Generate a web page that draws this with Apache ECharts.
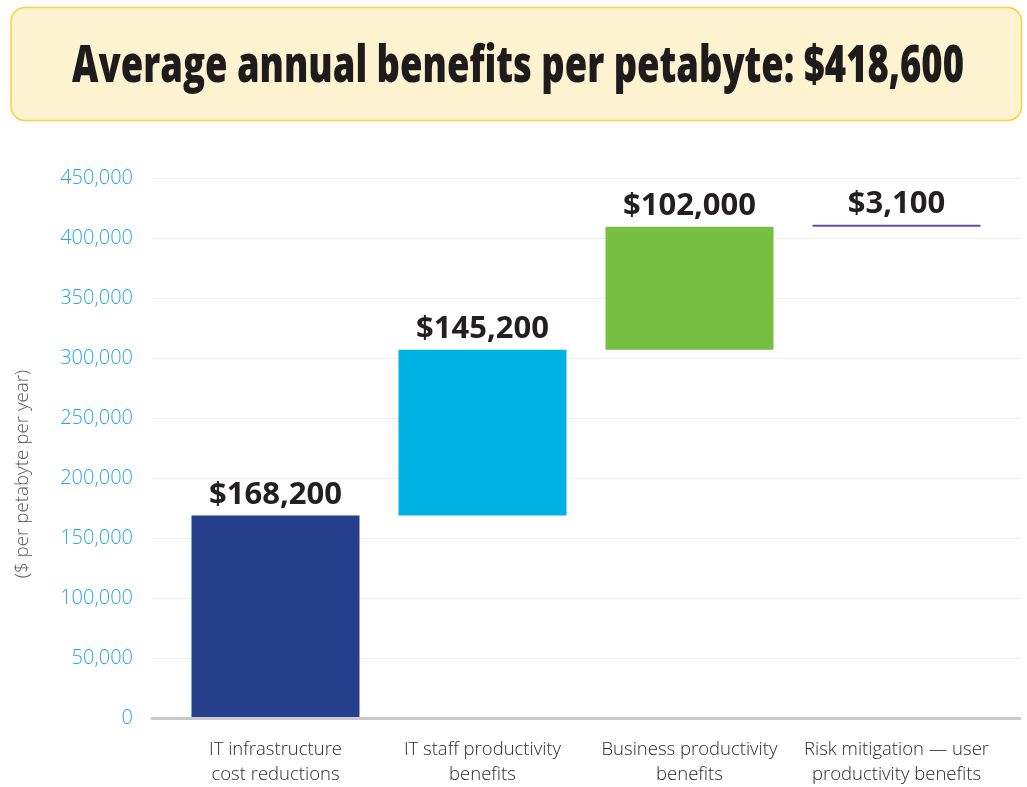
<!DOCTYPE html>
<html>
<head>
<meta charset="utf-8">
<script src="https://cdn.jsdelivr.net/npm/echarts@6/dist/echarts.min.js"></script>
<style>
html,body{margin:0;padding:0;background:#fff;}
#main{width:1027px;height:787px;}
</style>
</head>
<body>
<div id="main"></div>
<script>
// ---- data ----
const titleText = 'Average annual benefits per petabyte: $418,600';
const categories = [
  'IT infrastructure\ncost reductions',
  'IT staff productivity\nbenefits',
  'Business productivity\nbenefits',
  'Risk mitigation \u2014 user\nproductivity benefits'
];
const barBottoms = [0, 168200, 306700, 409300];   // as drawn in the picture
const barTops    = [168200, 306700, 409200, 411000];
const valueLabels = ['$168,200', '$145,200', '$102,000', '$3,100'];
const barColors = ['#253F8C', '#00B2E3', '#76BF43', '#6A4C9F'];
const yTicks = { min: 0, max: 450000, interval: 50000 };
const yAxisName = '($ per petabyte per year)';

// ---- chart ----
const chart = echarts.init(document.getElementById('main'));

const titleFont = '800 51px "Open Sans"';
const cv = document.createElement('canvas').getContext('2d');
cv.font = titleFont;
const titleW = cv.measureText(titleText).width;
const titleScaleX = 892 / titleW;

const fmt = v => v.toLocaleString('en-US');

chart.setOption({
  animation: false,
  backgroundColor: '#ffffff',
  graphic: [
    {
      type: 'rect',
      shape: { x: 11, y: 7.5, width: 1010.5, height: 113, r: 14 },
      style: { fill: '#FEF3D0', stroke: '#F8D23C', lineWidth: 1.5 },
      z: 0
    },
    {
      type: 'text',
      x: 518, y: 67,
      scaleX: titleScaleX,
      style: {
        text: titleText,
        font: titleFont,
        fill: '#1E1B1C',
        align: 'center',
        verticalAlign: 'middle'
      },
      z: 1
    },
    {
      type: 'text',
      x: 23, y: 474,
      rotation: Math.PI / 2,
      style: {
        text: yAxisName,
        font: '300 18.8px "Open Sans"',
        fill: '#555555',
        align: 'center',
        verticalAlign: 'middle'
      }
    }
  ],
  grid: [
    { left: 152, right: 7, top: 178, bottom: 69 },
    { left: 172, right: 27, top: 178, bottom: 69 }
  ],
  xAxis: [
    {
      type: 'category', gridIndex: 0, data: categories,
      axisLabel: { show: false }, axisTick: { show: false },
      axisLine: { lineStyle: { color: '#C9C9C9', width: 3 } },
      splitLine: { show: false }
    },
    {
      type: 'category', gridIndex: 1, data: categories,
      axisTick: { show: false },
      axisLine: { show: false },
      axisLabel: {
        interval: 0, margin: 20,
        fontFamily: '"Open Sans"', fontWeight: 300, fontSize: 18.5,
        lineHeight: 25, color: '#2b2b2b'
      }
    }
  ],
  yAxis: [
    {
      type: 'value', gridIndex: 0,
      min: yTicks.min, max: yTicks.max, interval: yTicks.interval,
      axisLine: { show: false }, axisTick: { show: false },
      splitLine: { lineStyle: { color: '#EEEEEE', width: 1 } },
      axisLabel: {
        margin: 19, formatter: v => fmt(v),
        fontFamily: '"Open Sans"', fontWeight: 300, fontSize: 20, color: '#2AA7DF'
      }
    },
    {
      type: 'value', gridIndex: 1,
      min: yTicks.min, max: yTicks.max, interval: yTicks.interval,
      show: false, splitLine: { show: false }
    }
  ],
  series: [
    {
      type: 'bar', xAxisIndex: 1, yAxisIndex: 1, stack: 'w',
      barWidth: 168, silent: true,
      itemStyle: { color: 'transparent' },
      data: barBottoms
    },
    {
      type: 'bar', xAxisIndex: 1, yAxisIndex: 1, stack: 'w',
      barWidth: 168,
      data: barTops.map((t, i) => ({ value: t - barBottoms[i], itemStyle: { color: barColors[i] } })),
      label: {
        show: true, position: 'top', distance: 5,
        formatter: p => valueLabels[p.dataIndex],
        fontFamily: '"Open Sans"', fontWeight: 700, fontSize: 31, color: '#231F20'
      }
    }
  ]
});
</script>
</body>
</html>
